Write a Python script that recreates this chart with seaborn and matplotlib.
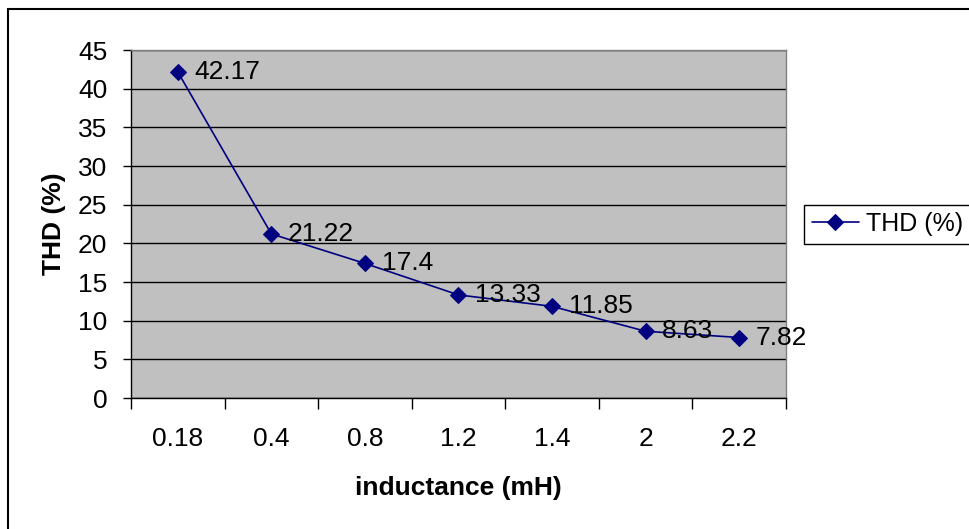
import matplotlib
matplotlib.use("Agg")
import matplotlib.pyplot as plt
import seaborn as sns
import pandas as pd
from matplotlib.patches import Rectangle

categories = ["0.18", "0.4", "0.8", "1.2", "1.4", "2", "2.2"]
thd_values = [42.17, 21.22, 17.4, 13.33, 11.85, 8.63, 7.82]
value_labels = ["42.17", "21.22", "17.4", "13.33", "11.85", "8.63", "7.82"]
y_ticks = [0, 5, 10, 15, 20, 25, 30, 35, 40, 45]

sns.set_style("white")
plt.rcParams['font.family'] = ['Liberation Sans', 'DejaVu Sans']
plt.rcParams['text.color'] = 'black'
plt.rcParams['axes.labelcolor'] = 'black'
plt.rcParams['xtick.color'] = 'black'
plt.rcParams['ytick.color'] = 'black'

df = pd.DataFrame({"inductance": categories, "THD (%)": thd_values})

FS = 19
W, H = 969, 529
fig = plt.figure(figsize=(W / 100, H / 100), dpi=100)
ax = fig.add_axes([131 / W, 1 - 398 / H, (786 - 131) / W, (398 - 50) / H])
ax.set_facecolor("#C0C0C0")

sns.lineplot(data=df, x="inductance", y="THD (%)", ax=ax, color="#000080",
             marker="D", markersize=8, markeredgecolor="#000080",
             linewidth=1.2, label="THD (%)", sort=False)

for i, (v, lab) in enumerate(zip(thd_values, value_labels)):
    ax.annotate(lab, (i, v), xytext=(12, 0), textcoords="offset points",
                ha="left", va="center", fontsize=FS, color="black")

ax.set_xlim(-0.5, len(categories) - 0.5)
ax.set_ylim(0, 45)
ax.set_yticks(y_ticks)
ax.set_yticklabels([str(t) for t in y_ticks], fontsize=FS)
ax.yaxis.grid(True, color="black", linewidth=1)
ax.xaxis.grid(False)
ax.set_axisbelow(True)

# category boundaries as major ticks, labels on minor ticks at centers
ax.set_xticks([i - 0.5 for i in range(len(categories) + 1)])
ax.set_xticklabels([])
ax.set_xticks(list(range(len(categories))), minor=True)
ax.set_xticklabels(categories, minor=True, fontsize=FS)
ax.tick_params(axis="x", which="major", direction="out", length=8, width=1, color="black")
ax.tick_params(axis="x", which="minor", length=0, pad=21)
ax.tick_params(axis="y", direction="out", length=6, width=1, color="black", pad=11)
ax.tick_params(left=True, bottom=True)

for s in ["top", "right"]:
    ax.spines[s].set_color("#808080")
    ax.spines[s].set_linewidth(1)
for s in ["left", "bottom"]:
    ax.spines[s].set_color("black")
    ax.spines[s].set_linewidth(1)

ax.set_xlabel("inductance (mH)", fontsize=FS, fontweight="bold", labelpad=18)
ax.set_ylabel("THD (%)", fontsize=FS, fontweight="bold", labelpad=9)

ax.get_legend().remove()
handles, labels = ax.get_legend_handles_labels()
leg = fig.legend(handles, labels, loc="center left",
                 bbox_to_anchor=(804 / W, 1 - 224 / H), fontsize=18,
                 frameon=True, fancybox=False, edgecolor="black", framealpha=1,
                 borderaxespad=0, handlelength=1.9, handletextpad=0.3,
                 borderpad=0.3)
leg.get_frame().set_linewidth(1)

fig.patches.append(Rectangle((8 / W, -0.1), 1.2, (1 - 9 / H) + 0.1, fill=False,
                             edgecolor="black", linewidth=1.5,
                             transform=fig.transFigure, figure=fig))

fig.savefig("out.png", dpi=100, facecolor="white")
